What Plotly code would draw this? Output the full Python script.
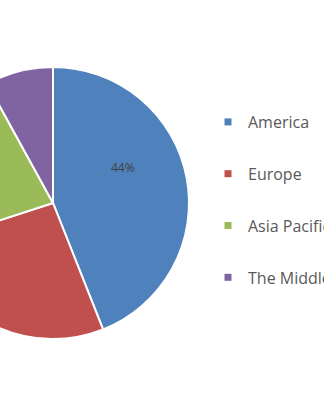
import plotly.graph_objects as go

regions = ["America", "Europe", "Asia Pacific", "The Middle East"]
shares = [44, 26, 22, 8]
colors = ["#4F81BD", "#C0504D", "#9BBB59", "#8064A2"]

SHIFT = 100
W, H = 524, 405
cx, cy, r = 53 + SHIFT, 203, 136

fig = go.Figure()
fig.add_trace(go.Pie(
    labels=regions, values=shares, sort=False, direction="clockwise", rotation=0,
    marker=dict(colors=colors, line=dict(color="white", width=2)),
    textinfo="none", showlegend=False, hoverinfo="skip",
    domain=dict(x=[(cx - r) / W, (cx + r) / W], y=[(H - cy - r) / H, (H - cy + r) / H]),
))
for i, name in enumerate(regions):
    fig.add_trace(go.Scatter(
        x=[None], y=[None], mode="markers", name=name, legendgroup=name,
        marker=dict(symbol="square", size=7, color=colors[i]),
    ))

pct = round(100 * shares[0] / sum(shares))
fig.add_annotation(x=(123 + SHIFT) / W, y=1 - 168 / H, xref="paper", yref="paper",
                   text=f"{pct}%", showarrow=False,
                   font=dict(family="Open Sans", size=12, color="#404040"))

fig.update_layout(
    width=W, height=H, margin=dict(l=0, r=0, t=0, b=0),
    paper_bgcolor="white", plot_bgcolor="white",
    xaxis=dict(visible=False), yaxis=dict(visible=False),
    legend=dict(x=(348 - 40) / W, xanchor="left", y=1 - 105 / H, yanchor="top",
                font=dict(family="Open Sans", size=16, color="#595959"),
                tracegroupgap=28, bgcolor="rgba(0,0,0,0)"),
)

post = ("var gd=document.getElementById('{plot_id}');"
        "gd.style.marginLeft='-%dpx';"
        "document.body.style.margin='0';document.body.style.overflow='hidden';"
        "document.documentElement.style.overflow='hidden';" % SHIFT)
fig.write_html("out.html", post_script=post)
